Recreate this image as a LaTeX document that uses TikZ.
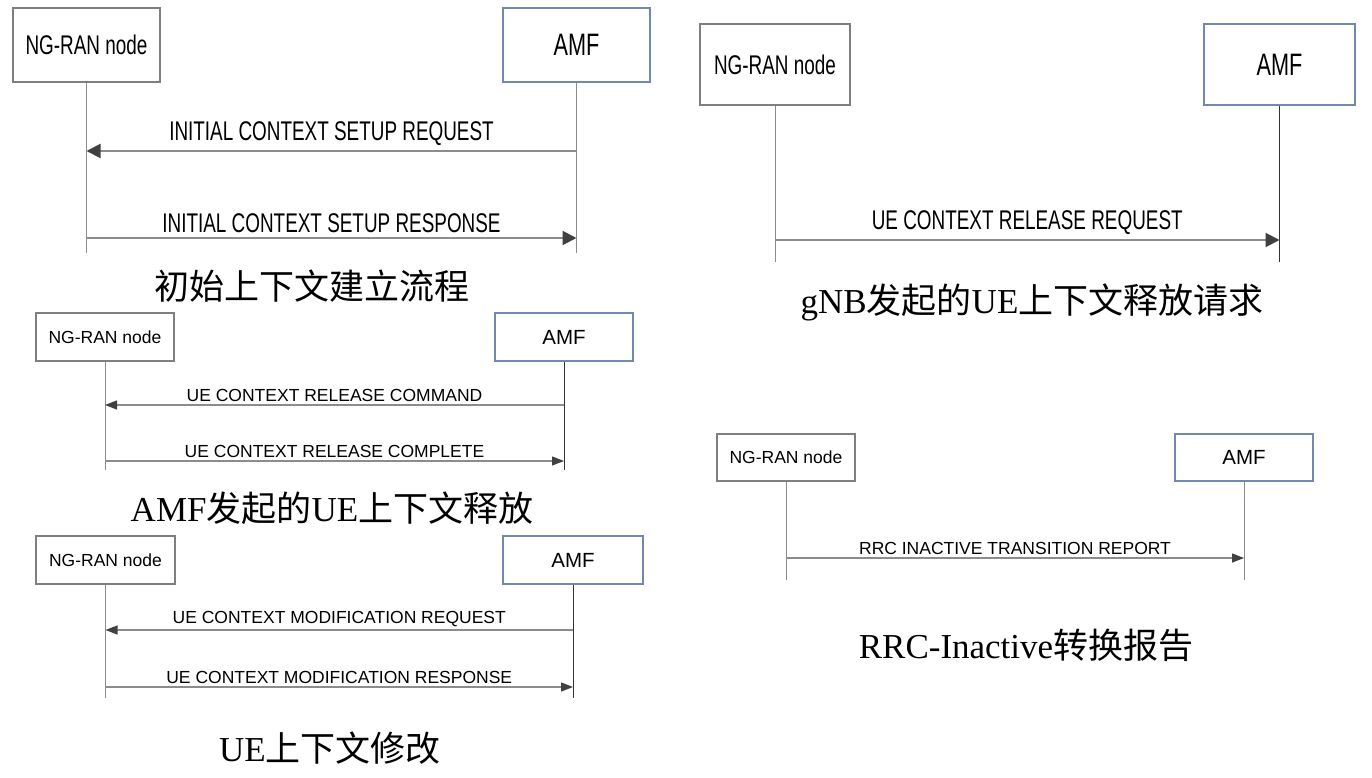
\documentclass[tikz,border=0pt]{standalone}
\usepackage{fontspec}
\setmainfont{Liberation Serif}
\setsansfont{Liberation Sans}
\newfontfamily\cjk{Noto Sans CJK SC}
\newfontfamily\condsans[FakeStretch=0.7]{Liberation Sans}
\usetikzlibrary{arrows.meta}

\definecolor{boxgray}{HTML}{7F7F7F}
\definecolor{boxblue}{HTML}{7189B0}
\definecolor{linegray}{HTML}{8C8C8C}
\definecolor{tipgray}{HTML}{404040}
\newcommand{\zh}[1]{{\cjk #1}}

\tikzset{
  rannode/.style={draw=boxgray, line width=1.2pt, fill=white, inner sep=0pt},
  amfnode/.style={draw=boxblue, line width=1.2pt, fill=white, inner sep=0pt},
  bigtext/.style={font=\condsans\fontsize{27}{31}\selectfont},
  bigamf/.style={font=\condsans\fontsize{31}{35}\selectfont},
  smalltext/.style={font=\sffamily\fontsize{17.5}{20}\selectfont},
  smallamf/.style={font=\sffamily\fontsize{20.5}{24}\selectfont},
  life/.style={draw=linegray, line width=1pt},
  darklife/.style={draw=black!80, line width=1pt},
  bigmsg/.style={draw=linegray, line width=2pt, -{Triangle[length=14pt, width=14pt, color=tipgray]}},
  smallmsg/.style={draw=linegray, line width=1.3pt, -{Triangle[length=12pt, width=9pt, color=tipgray]}},
  biglbl/.style={bigtext, above, inner sep=4pt},
  smalllbl/.style={smalltext, above, inner sep=3pt},
  caption/.style={font=\fontsize{35}{40}\selectfont, inner sep=0pt}
}

\begin{document}
\begin{tikzpicture}[x=1pt, y=-1pt]
  \useasboundingbox[fill=white] (0,0) rectangle (1372,778);

  % initial context setup
  \node[rannode, bigtext, minimum width=147, minimum height=74] (ran1) at (86.5,45) {NG-RAN node};
  \node[amfnode, bigamf, minimum width=147, minimum height=74] (amf1) at (576.5,45) {AMF};
  \coordinate (end1) at (0,253);
  \coordinate (m1a) at (0,151);
  \coordinate (m1b) at (0,238);
  \draw[life] (ran1) -- (ran1 |- end1);
  \draw[life] (amf1) -- (amf1 |- end1);
  \draw[bigmsg] (amf1 |- m1a) -- node[biglbl] {INITIAL CONTEXT SETUP REQUEST} (ran1 |- m1a);
  \draw[bigmsg] (ran1 |- m1b) -- node[biglbl] {INITIAL CONTEXT SETUP RESPONSE} (amf1 |- m1b);
  \node[caption] (cap1) at (312,286) {\zh{初始上下文建立流程}};

  % gNB initiated release request
  \node[rannode, bigtext, minimum width=150, minimum height=81] (ran2) at (775,64.5) {NG-RAN node};
  \node[amfnode, bigamf, minimum width=151, minimum height=81] (amf2) at (1279.5,64.5) {AMF};
  \coordinate (end2) at (0,262);
  \coordinate (m2a) at (0,240);
  \draw[life] (ran2) -- (ran2 |- end2);
  \draw[darklife] (amf2) -- (amf2 |- end2);
  \draw[bigmsg] (ran2 |- m2a) -- node[biglbl] {UE CONTEXT RELEASE REQUEST} (amf2 |- m2a);
  \node[caption] (cap2) at (1032,302) {gNB\zh{发起的}UE\zh{上下文释放请求}};

  % AMF initiated release
  \node[rannode, smalltext, minimum width=138, minimum height=48] (ran3) at (105,337) {NG-RAN node};
  \node[amfnode, smallamf, minimum width=138, minimum height=48] (amf3) at (564,337) {AMF};
  \coordinate (end3) at (0,470);
  \coordinate (m3a) at (0,405);
  \coordinate (m3b) at (0,461);
  \draw[life] (ran3) -- (ran3 |- end3);
  \draw[darklife] (amf3) -- (amf3 |- end3);
  \draw[smallmsg] (amf3 |- m3a) -- node[smalllbl] {UE CONTEXT RELEASE COMMAND} (ran3 |- m3a);
  \draw[smallmsg] (ran3 |- m3b) -- node[smalllbl] {UE CONTEXT RELEASE COMPLETE} (amf3 |- m3b);
  \node[caption] (cap3) at (332,508) {AMF\zh{发起的}UE\zh{上下文释放}};

  % context modification
  \node[rannode, smalltext, minimum width=139, minimum height=48] (ran4) at (105.5,560) {NG-RAN node};
  \node[amfnode, smallamf, minimum width=140, minimum height=48] (amf4) at (573,560) {AMF};
  \coordinate (end4) at (0,698);
  \coordinate (m4a) at (0,630);
  \coordinate (m4b) at (0,687);
  \draw[life] (ran4) -- (ran4 |- end4);
  \draw[darklife] (amf4) -- (amf4 |- end4);
  \draw[smallmsg] (amf4 |- m4a) -- node[smalllbl] {UE CONTEXT MODIFICATION REQUEST} (ran4 |- m4a);
  \draw[smallmsg] (ran4 |- m4b) -- node[smalllbl] {UE CONTEXT MODIFICATION RESPONSE} (amf4 |- m4b);
  \node[caption] (cap4) at (330,748) {UE\zh{上下文修改}};

  % rrc inactive transition
  \node[rannode, smalltext, minimum width=138, minimum height=47] (ran5) at (786,457.5) {NG-RAN node};
  \node[amfnode, smallamf, minimum width=138, minimum height=47] (amf5) at (1244,457.5) {AMF};
  \coordinate (end5) at (0,580);
  \coordinate (m5a) at (0,558);
  \draw[life] (ran5) -- (ran5 |- end5);
  \draw[life] (amf5) -- (amf5 |- end5);
  \draw[smallmsg] (ran5 |- m5a) -- node[smalllbl] {RRC INACTIVE TRANSITION REPORT} (amf5 |- m5a);
  \node[caption] (cap5) at (1026,645) {RRC-Inactive\zh{转换报告}};
\end{tikzpicture}
\end{document}
